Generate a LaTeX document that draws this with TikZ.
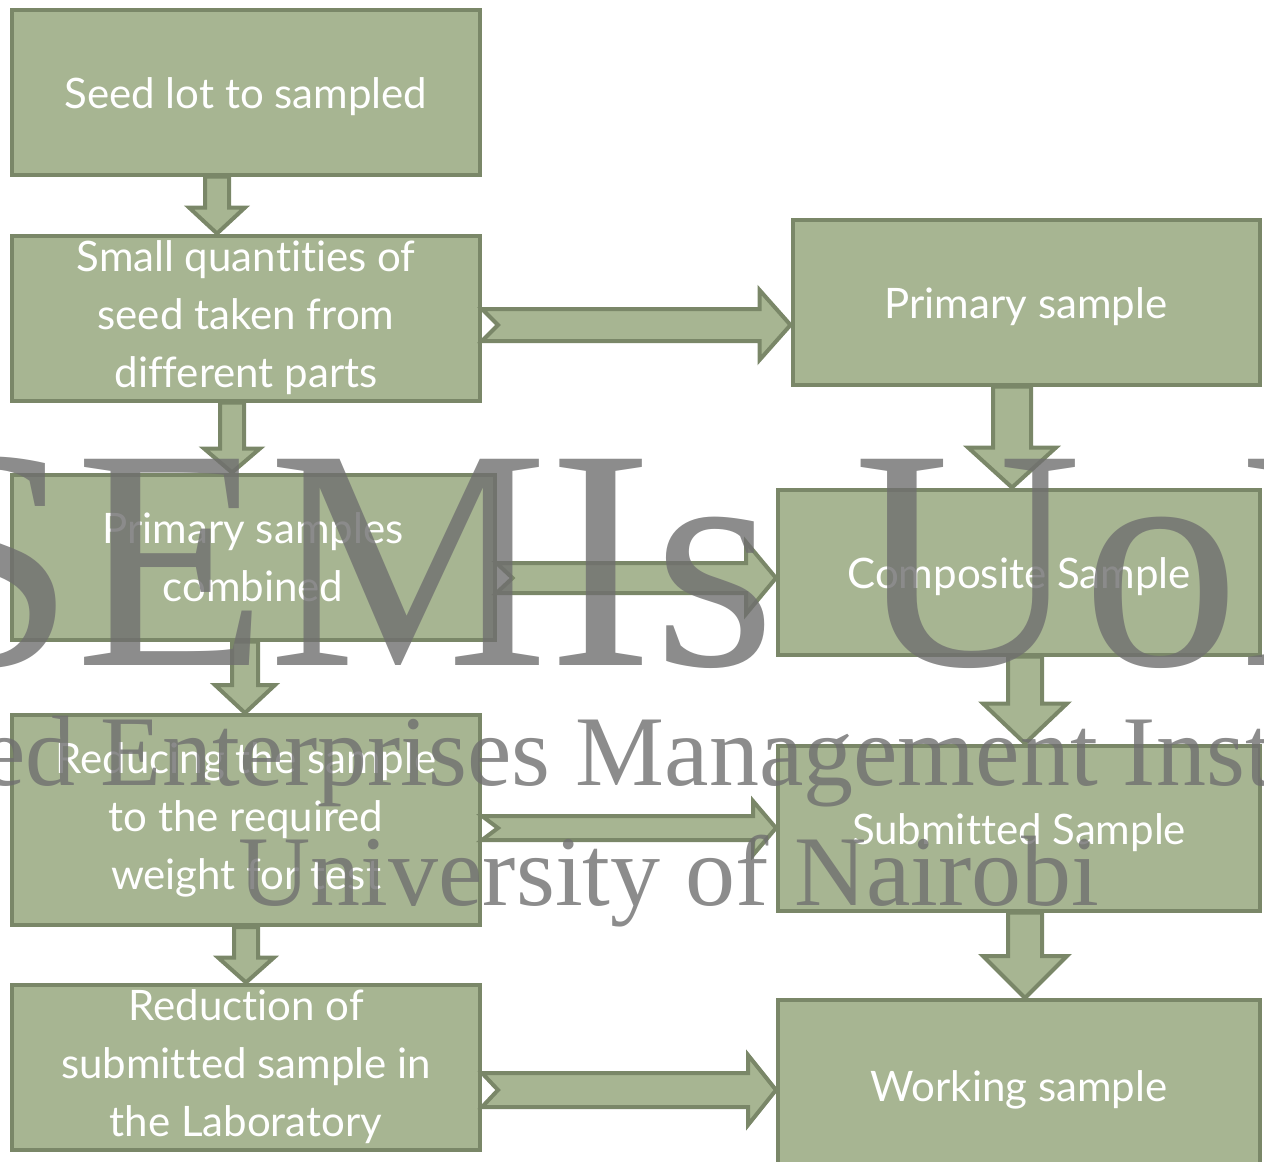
\documentclass[tikz,border=0pt]{standalone}
\usepackage{fontspec}
\newfontfamily\boxfont[Ligatures=NoCommon]{Lato}
\newfontfamily\markfont{Liberation Serif}
\usetikzlibrary{calc}

\definecolor{boxgreen}{HTML}{A7B592}
\definecolor{edgegreen}{HTML}{7A8768}
\definecolor{markgray}{RGB}{111,111,111}

\tikzset{
  stage/.style={draw=edgegreen, fill=boxgreen, line width=4pt, text=white,
    align=center, inner sep=0pt, minimum width=468pt, minimum height=165pt,
    font=\boxfont\fontsize{42}{58}\selectfont,
    execute at begin node={\rule{0pt}{41pt}}},
  blockarrow/.style={draw=edgegreen, fill=boxgreen, line width=4pt, line join=miter},
  watermark/.style={text=markgray, anchor=base, inner sep=0pt}
}

% down arrow: [dx]{from}{to}{half shaft}{half head}{head length}
\newcommand{\vblock}[6][0]{%
  \draw[blockarrow] let \p1=($(#2)+(#1,0)$), \p2=(#3) in
    (\x1-#4,\y1) -- (\x1-#4,\y2+#6) -- (\x1-#5,\y2+#6) -- (\x1,\y2)
    -- (\x1+#5,\y2+#6) -- (\x1+#4,\y2+#6) -- (\x1+#4,\y1) -- cycle;}
% right arrow with notched tail: [dy]{from}{to}{half shaft}{half head}{head length}
\newcommand{\hblock}[6][0]{%
  \draw[blockarrow] let \p1=($(#2)+(0,#1)$), \p2=(#3) in
    (\x1,\y1+#4) -- (\x2-#6,\y1+#4) -- (\x2-#6,\y1+#5) -- (\x2,\y1)
    -- (\x2-#6,\y1-#5) -- (\x2-#6,\y1-#4) -- (\x1,\y1-#4) -- (\x1+16pt,\y1) -- cycle;}

\begin{document}
\begin{tikzpicture}[x=1pt,y=-1pt]
  \useasboundingbox (0,0) rectangle (1264,1162);

  % left column
  \node[stage] (seedlot)    at (246,92)   {Seed lot to sampled};
  \node[stage] (quantities) at (246,318)  {Small quantities of\\seed taken from\\different parts};
  \node[stage, minimum width=483pt] (combined) at (253,557) {Primary samples\\combined};
  \node[stage, minimum height=210pt] (reducing) at (246,820) {Reducing the sample\\to the required\\weight for test};
  \node[stage] (reduction)  at (246,1067) {Reduction of\\submitted sample in\\the Laboratory};

  % right column
  \node[stage, minimum width=467pt] (primary)   at (1026,302) {Primary sample};
  \node[stage, minimum width=482pt] (composite) at (1019,572) {Composite Sample};
  \node[stage, minimum width=482pt] (submitted) at (1019,828) {Submitted Sample};
  \node[stage, minimum width=482pt, minimum height=170pt] (working) at (1019,1085) {Working sample};

  % down arrows
  \vblock[-29]{seedlot.south}{quantities.north}{12pt}{28pt}{26pt}
  \vblock[-14]{quantities.south}{combined.north}{12pt}{28pt}{24pt}
  \vblock[-8]{combined.south}{reducing.north}{13pt}{30pt}{28pt}
  \vblock{reducing.south}{reduction.north}{12pt}{28pt}{25pt}
  \vblock[-14]{primary.south}{composite.north}{19pt}{44pt}{40pt}
  \vblock[6]{composite.south}{submitted.north}{17pt}{42pt}{40pt}
  \vblock[6]{submitted.south}{working.north}{17pt}{42pt}{42pt}

  % right arrows
  \hblock[7]{quantities.east}{primary.west}{16pt}{35pt}{31pt}
  \hblock[21]{combined.east}{composite.west}{15pt}{36pt}{30pt}
  \hblock[8]{reducing.east}{submitted.west}{12pt}{27pt}{23pt}
  \hblock[23]{reduction.east}{working.west}{17pt}{35pt}{28pt}

  % watermark
  \begin{scope}[opacity=0.8]
    \clip (0,0) rectangle (1264,1162);
    \node[watermark, font=\markfont\fontsize{315}{315}\selectfont] (wmsemi) at (684,665) {SEMIs UoN};
    \node[watermark, font=\markfont\fontsize{100}{120}\selectfont] (wminst) at (666,785) {Seed Enterprises Management Institute};
    \node[watermark, font=\markfont\fontsize{100}{120}\selectfont] (wmuni) at (669,905) {University of Nairobi};
  \end{scope}
\end{tikzpicture}
\end{document}
